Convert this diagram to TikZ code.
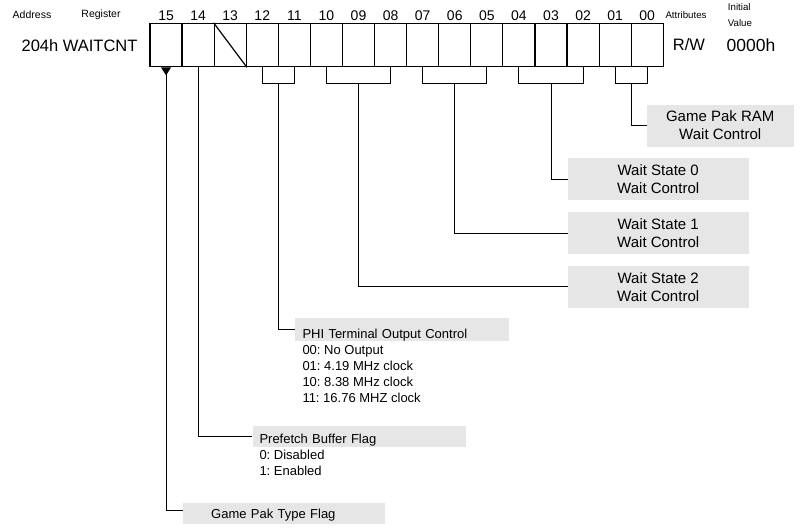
\documentclass[tikz,border=0pt]{standalone}
\usepackage{fontspec}
\setmainfont{Liberation Sans}
\usepackage{tikz}
\usetikzlibrary{arrows.meta}
\definecolor{boxgray}{HTML}{E6E6E6}
\frenchspacing

\begin{document}
\begin{tikzpicture}[
                x=1pt, y=-1pt, % pixel units, y grows downwards
                cell/.style={draw, line width=1.2pt, minimum width=32.08pt, minimum height=43.4pt, inner sep=0pt}, % one register bit
                bitnum/.style={font=\fontsize{14}{16}\selectfont, inner sep=0pt}, % bit numbers
                headtext/.style={font=\fontsize{10.5}{16}\selectfont, inner sep=0pt}, % column captions
                regtext/.style={font=\fontsize{16.5}{20}\selectfont, inner sep=0pt}, % register name and values
                waitbox/.style={fill=boxgray, align=center, font=\fontsize{15}{18}\selectfont, minimum height=42pt, inner sep=0pt, anchor=west}, % centred field boxes
                flagbox/.style={fill=boxgray, align=left, font=\fontsize{13}{16}\selectfont, anchor=south west, inner ysep=0pt}, % left aligned field boxes
                valuelist/.style={align=left, font=\fontsize{13}{16}\selectfont, anchor=north west, inner sep=0pt}, % lists of values
                wire/.style={draw, line width=1pt} % connectors
                ]
                \useasboundingbox (0,0) rectangle (802,531);
                % header
                \node[headtext] (address) at (32,15) {Address};
                \node[headtext] (register) at (101,15) {Register};
                \node[regtext] (name) at (79.5,45.5) {204h WAITCNT};
                \node[headtext, font=\fontsize{9.7}{16}\selectfont] (attr) at (686,15.5) {Attributes};
                \node[headtext, font=\fontsize{9.7}{16}\selectfont, align=left, anchor=west] (init) at (727.7,14.7) {Initial\\Value};
                \node[regtext] (rw) at (689,45) {R/W};
                \node[regtext, font=\fontsize{17.5}{20}\selectfont] (value) at (751,45) {0000h};
                % register bits
                \foreach \bitno [count=\k from 0] in {15,14,13,12,11,10,09,08,07,06,05,04,03,02,01,00} {
                    \node[cell] (b\bitno) at ({166.04+\k*32.08},45) {};
                    \node[bitnum] (n\bitno) at ({166.04+\k*32.08},15.5) {\bitno};
                }
                \draw[line width=1.2pt] (b13.north west) -- (b13.south east);
                % field boxes
                \node[waitbox, minimum width=146.6pt] (ramwait) at (646.7,125.5) {Game Pak RAM\\Wait Control};
                \node[waitbox, minimum width=180.6pt] (ws0) at (567.7,179) {Wait State 0\\Wait Control};
                \node[waitbox, minimum width=180.6pt] (ws1) at (567.7,233) {Wait State 1\\Wait Control};
                \node[waitbox, minimum width=180.6pt] (ws2) at (567.7,286.7) {Wait State 2\\Wait Control};
                \node[flagbox, text width=198.7pt, inner xsep=7.3pt, text height=20.7pt, text depth=1.7pt] (phi) at (295,340.7) {PHI Terminal Output Control};
                \node[valuelist] (philist) at (302.3,345.5) {00: No Output\\01: 4.19 MHz clock\\10: 8.38 MHz clock\\11: 16.76 MHZ clock};
                \node[flagbox, text width=199.4pt, inner xsep=7pt, text height=18.3pt, text depth=2.7pt] (prefetch) at (252.3,446.7) {Prefetch Buffer Flag};
                \node[valuelist] (prelist) at (259.3,449.5) {0: Disabled\\1: Enabled};
                \node[flagbox, text width=145.7pt, inner xsep=28.3pt, text height=15.7pt, text depth=5pt] (typeflag) at (182.7,524) {Game Pak Type Flag};
                % brackets and connectors
                \foreach \from/\to in {12/11,10/08,07/05,04/02,01/00}
                    \draw[wire] (b\from.south) -- ++(0,16) -| (b\to.south);
                \draw[wire] (b01.south east) ++(0,16) |- (ramwait.west);
                \draw[wire] (b03.south) ++(0,16) |- (ws0.west);
                \draw[wire] (b06.south) ++(0,16) |- (ws1.west);
                \draw[wire] (b09.south) ++(0,16) |- (ws2.west);
                \draw[wire] (b12.south east) ++(0,16) |- (phi.west);
                \draw[wire] (b14.south) |- (prefetch.west);
                \draw[wire, {Triangle[reversed, width=10pt, length=8pt]}-] (b15.south) |- ([yshift=3pt]typeflag.west);
            \end{tikzpicture}
\end{document}
